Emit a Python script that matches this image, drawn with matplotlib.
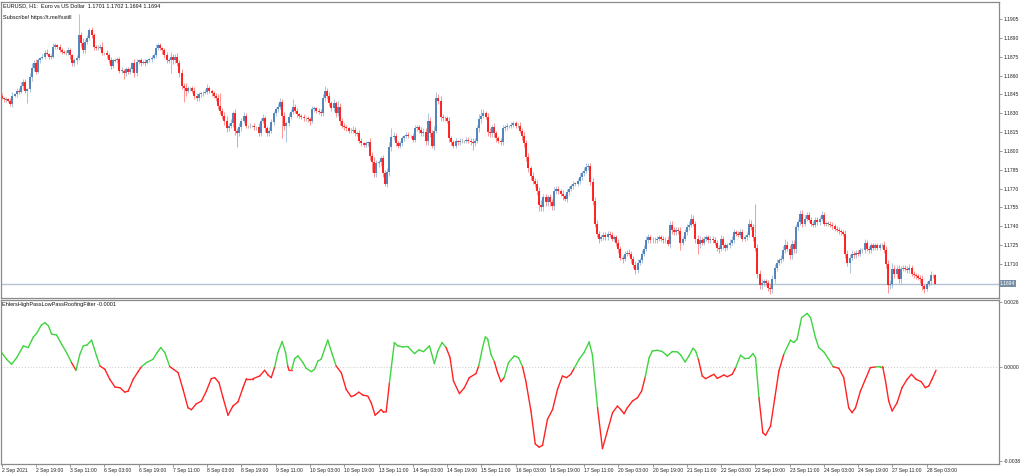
import numpy as np
import matplotlib.pyplot as plt
from matplotlib.collections import LineCollection

# prices in pips above 1.1700 (open of each bar = previous close)
BASE = 1.17
first_open = 144
closes = [
    142, 141, 141, 140, 137, 144, 145, 148, 147, 152,
    155, 148, 149, 159, 166, 170, 163, 172, 174, 175,
    178, 177, 175, 175, 183, 184, 183, 180, 179, 178,
    178, 180, 176, 170, 172, 174, 192, 186, 180, 187,
    190, 196, 192, 183, 182, 182, 183, 178, 178, 176,
    172, 168, 172, 172, 173, 164, 164, 162, 165, 163,
    165, 170, 162, 171, 172, 170, 171, 170, 172, 173,
    174, 176, 182, 184, 182, 180, 176, 172, 172, 175,
    172, 175, 170, 162, 152, 150, 148, 150, 150, 148,
    144, 142, 145, 146, 146, 147, 150, 148, 146, 144,
    142, 136, 132, 128, 124, 118, 120, 122, 130, 116,
    114, 119, 124, 128, 120, 120, 120, 120, 119, 119,
    114, 124, 126, 118, 114, 116, 123, 130, 133, 135,
    139, 128, 120, 122, 127, 131, 135, 132, 129, 128,
    127, 126, 126, 125, 124, 133, 134, 132, 131, 130,
    142, 148, 144, 138, 134, 138, 130, 135, 124, 120,
    119, 118, 116, 116, 117, 114, 114, 108, 106, 105,
    106, 107, 96, 91, 82, 90, 91, 94, 82, 74,
    83, 103, 111, 112, 106, 104, 106, 110, 112, 113,
    112, 112, 109, 118, 119, 117, 114, 115, 108, 124,
    114, 104, 116, 142, 140, 127, 126, 126, 124, 110,
    107, 104, 108, 107, 108, 108, 108, 109, 108, 107,
    106, 108, 118, 125, 128, 130, 127, 115, 114, 119,
    114, 110, 108, 107, 118, 119, 120, 120, 121, 122,
    120, 120, 116, 112, 106, 95, 86, 80, 76, 74,
    68, 57, 55, 63, 59, 63, 59, 56, 68, 70,
    68, 66, 64, 62, 67, 70, 72, 74, 74, 76,
    79, 82, 84, 87, 88, 75, 60, 42, 34, 30,
    31, 33, 31, 34, 33, 30, 31, 27, 22, 15,
    14, 18, 19, 18, 14, 9, 5, 11, 13, 18,
    22, 29, 31, 29, 29, 29, 30, 31, 30, 29,
    29, 26, 41, 37, 35, 37, 36, 27, 30, 35,
    39, 41, 46, 42, 30, 26, 29, 27, 30, 31,
    29, 30, 29, 27, 23, 22, 30, 25, 23, 25,
    27, 29, 35, 34, 33, 35, 30, 31, 33, 42,
    39, 31, 23, 2, -7, -5, -4, -5, -9, -10,
    -2, 7, 11, 13, 14, 21, 25, 22, 17, 26,
    22, 39, 43, 50, 42, 46, 49, 45, 42, 41,
    45, 43, 46, 49, 42, 42, 42, 41, 40, 38,
    37, 36, 35, 34, 18, 11, 15, 18, 17, 19,
    18, 21, 21, 27, 22, 21, 25, 23, 25, 23,
    25, 25, 21, 10, -7, -6, 6, 2, 6, -2,
    6, 7, 6, 5, 7, 2, 1, 0, -1, -2,
    -8, -10, -6, -4, 1, 1, -6,
]
# wick lengths (pips) above / below the body
wick_up = [
    2, 1, 2, 1, 2, 3, 1, 2, 2, 3, 2, 2, 1, 3, 4, 2, 3, 2, 1, 2,
    2, 3, 1, 2, 3, 2, 1, 2, 2, 1, 2, 3, 2, 1, 2, 2, 17, 3, 4, 2,
    2, 2, 3, 2, 1, 2, 2, 4, 1, 2, 2, 3, 1, 2, 2, 2, 3, 1, 2, 2,
    2, 1, 3, 2, 1, 2, 1, 2, 1, 1, 2, 2, 3, 2, 2, 1, 2, 3, 2, 4,
    2, 2, 3, 2, 3, 2, 4, 2, 1, 2, 3, 2, 2, 1, 2, 2, 3, 2, 1, 2,
    2, 3, 10, 2, 3, 4, 2, 3, 2, 3, 2, 3, 2, 3, 2, 1, 2, 1, 2, 1,
    3, 2, 3, 2, 2, 3, 2, 2, 2, 3, 3, 2, 3, 2, 3, 2, 6, 2, 2, 1,
    1, 2, 1, 2, 2, 3, 2, 1, 2, 2, 3, 4, 2, 3, 2, 3, 2, 5, 3, 2,
    2, 2, 1, 2, 3, 2, 2, 3, 2, 1, 2, 1, 3, 3, 4, 3, 2, 2, 3, 3,
    3, 4, 7, 3, 2, 2, 2, 2, 1, 2, 2, 1, 2, 3, 2, 2, 2, 3, 3, 6,
    3, 3, 4, 5, 3, 4, 2, 2, 2, 3, 2, 2, 2, 1, 2, 2, 1, 2, 2, 2,
    3, 2, 3, 4, 5, 3, 2, 3, 3, 2, 3, 2, 2, 2, 3, 2, 2, 1, 2, 2,
    2, 2, 3, 2, 3, 3, 3, 2, 3, 2, 3, 3, 4, 3, 3, 2, 3, 3, 3, 2,
    2, 2, 3, 2, 3, 2, 2, 2, 1, 2, 3, 2, 3, 3, 2, 2, 3, 3, 3, 2,
    2, 2, 2, 2, 2, 2, 2, 2, 3, 2, 2, 2, 2, 3, 2, 2, 3, 3, 2, 3,
    3, 3, 3, 2, 2, 2, 2, 2, 2, 2, 2, 3, 3, 3, 2, 2, 2, 3, 2, 3,
    3, 3, 4, 3, 2, 3, 3, 2, 2, 2, 2, 2, 2, 2, 2, 2, 3, 2, 2, 2,
    3, 3, 3, 2, 2, 3, 3, 2, 2, 4, 3, 3, 27, 3, 3, 3, 2, 2, 2, 3,
    3, 3, 3, 2, 3, 3, 5, 3, 3, 3, 3, 3, 3, 3, 3, 3, 2, 2, 2, 2,
    2, 2, 2, 3, 2, 2, 2, 2, 2, 2, 2, 2, 2, 2, 3, 3, 3, 3, 2, 2,
    2, 2, 2, 3, 2, 2, 2, 2, 2, 2, 2, 2, 3, 3, 3, 3, 5, 3, 3, 3,
    2, 2, 2, 2, 3, 2, 2, 2, 2, 2, 3, 2, 2, 2, 3, 1, 1,
]
wick_dn = [
    1, 2, 2, 1, 1, 2, 1, 2, 2, 1, 3, 2, 10, 2, 3, 2, 2, 1, 2, 1,
    2, 1, 2, 2, 1, 2, 2, 1, 2, 1, 2, 2, 3, 2, 2, 3, 2, 3, 2, 2,
    2, 2, 2, 3, 2, 2, 1, 2, 2, 2, 2, 3, 2, 1, 2, 2, 2, 5, 2, 2,
    2, 2, 3, 2, 2, 2, 1, 2, 1, 1, 2, 1, 2, 2, 2, 3, 2, 2, 2, 10,
    3, 2, 2, 3, 3, 11, 4, 2, 2, 2, 3, 2, 2, 2, 2, 1, 2, 2, 2, 2,
    2, 3, 3, 3, 3, 3, 2, 2, 3, 3, 11, 2, 3, 2, 2, 2, 2, 1, 2, 2,
    2, 2, 2, 3, 2, 2, 2, 2, 2, 2, 2, 18, 3, 13, 2, 2, 2, 2, 2, 2,
    2, 2, 2, 2, 3, 2, 2, 2, 2, 2, 2, 2, 3, 2, 2, 2, 3, 2, 3, 2,
    2, 2, 2, 2, 2, 2, 2, 2, 2, 2, 2, 2, 3, 8, 3, 3, 3, 3, 3, 2,
    3, 3, 3, 2, 2, 2, 2, 2, 2, 2, 2, 2, 2, 2, 2, 3, 2, 2, 3, 3,
    3, 2, 3, 2, 3, 3, 2, 2, 2, 3, 2, 2, 2, 2, 2, 2, 2, 2, 2, 2,
    5, 2, 2, 3, 3, 2, 2, 3, 3, 3, 3, 3, 2, 2, 2, 2, 2, 2, 2, 2,
    2, 2, 2, 3, 3, 3, 3, 3, 2, 3, 3, 5, 3, 3, 3, 3, 3, 3, 3, 2,
    2, 2, 3, 2, 3, 2, 2, 2, 2, 2, 2, 2, 2, 2, 2, 2, 3, 3, 3, 3,
    2, 2, 2, 2, 2, 2, 2, 3, 3, 2, 3, 2, 2, 2, 3, 2, 3, 2, 2, 2,
    2, 2, 2, 2, 2, 2, 2, 2, 2, 2, 2, 2, 3, 3, 2, 2, 2, 6, 2, 2,
    2, 2, 2, 2, 3, 8, 3, 2, 2, 2, 2, 2, 2, 2, 3, 3, 2, 3, 3, 2,
    2, 2, 2, 2, 2, 2, 2, 2, 2, 2, 2, 3, 3, 3, 3, 3, 3, 3, 3, 4,
    3, 3, 3, 2, 2, 2, 2, 2, 3, 3, 3, 3, 2, 2, 3, 2, 2, 2, 2, 2,
    2, 2, 2, 2, 2, 2, 2, 2, 2, 2, 2, 2, 2, 2, 3, 3, 8, 2, 2, 2,
    2, 2, 2, 2, 2, 2, 2, 2, 2, 2, 2, 2, 2, 3, 6, 3, 3, 3, 3, 3,
    3, 2, 2, 2, 2, 2, 2, 2, 2, 3, 3, 3, 2, 2, 2, 2, 0,
]
price_ticks = [1.1905, 1.1890, 1.1875, 1.1860, 1.1845, 1.1830, 1.1815,
               1.1800, 1.1785, 1.1770, 1.1755, 1.1740, 1.1725, 1.1710]
last_price = 1.1694

# roofing filter, units of 1e-4, sampled at bar positions
ind_bar = [0.0, 2.3, 4.65, 7.0, 10.1, 12.4, 14.8, 16.3, 18.6, 20.2,
           21.8, 23.3, 25.6, 28.0, 30.3, 32.6, 34.7, 36.5, 38.1, 39.9,
           42.0, 44.3, 45.9, 48.2, 50.5, 52.9, 55.2, 57.5, 59.1, 61.4,
           63.7, 65.3, 67.6, 70.7, 72.6, 74.3, 76.2, 78.5, 82.4, 84.7,
           87.0, 88.6, 90.9, 93.3, 95.6, 97.9, 99.5, 101.5, 103.4, 105.7,
           108.0, 110.4, 112.7, 114.3, 117.4, 120.5, 122.8, 124.4, 125.9, 127.5,
           129.0, 131.0, 132.6, 133.6, 134.2, 135.4, 136.8, 138.4, 140.7, 142.2,
           144.6, 146.1, 147.7, 149.2, 150.8, 152.3, 154.4, 156.2, 158.6, 160.9,
           163.2, 164.8, 166.8, 168.7, 171.0, 172.6, 174.4, 175.7, 177.2, 178.3,
           179.6, 181.1, 183.4, 185.0, 187.3, 189.7, 192.8, 194.8, 197.0, 199.8,
           202.1, 203.7, 205.7, 207.6, 209.4, 211.0, 213.8, 216.1, 218.4, 221.5,
           222.8, 224.6, 225.9, 227.0, 228.5, 230.1, 231.6, 233.2, 234.7, 236.7,
           239.4, 241.4, 243.3, 244.8, 247.2, 249.2, 251.0, 252.6, 254.9, 257.3,
           259.6, 261.9, 263.8, 265.8, 267.4, 269.7, 272.0, 274.4, 275.9, 278.3,
           280.6, 282.9, 285.3, 287.6, 289.1, 290.7, 292.2, 294.6, 296.9, 298.9,
           300.5, 302.4, 303.9, 306.2, 308.6, 310.9, 313.2, 315.6, 317.1, 319.2,
           321.0, 322.9, 324.1, 325.4, 327.2, 328.8, 331.1, 332.7, 334.2, 335.8,
           337.3, 338.9, 341.2, 342.8, 345.1, 347.1, 349.0, 350.9, 352.1, 353.7,
           355.5, 356.8, 359.1, 361.1, 363.0, 365.3, 368.4, 370.0, 371.5, 373.6,
           376.2, 377.8, 380.1, 381.6, 384.0, 386.3, 388.3, 391.0, 393.3, 395.6,
           397.2, 398.8, 401.1, 403.4, 405.7, 408.1, 410.4, 411.5, 412.8, 414.3,
           415.9, 418.2, 420.5, 422.9, 424.9, 427.1, 429.5, 431.4, 433.0, 434.5,
           436.4]
ind_val = [5.67, 2.97, 0.94, 3.64, 8.37, 7.69, 12.0, 13.4, 16.9, 17.7,
           16.5, 13.1, 12.8, 9.04, 5.67, 1.62, -1.48, 4.99, 8.37, 8.77,
           10.7, 4.32, 0.27, -1.08, -5.13, -8.23, -8.50, -10.3, -9.85, -5.13,
           -2.02, 0.0, 1.62, 2.97, 5.67, 7.69, 5.67, 0.0, -2.43, -9.18,
           -16.6, -17.4, -15.0, -13.9, -9.85, -4.86, -4.45, -6.48, -12.6, -19.6,
           -15.9, -14.2, -8.50, -4.86, -4.86, -3.78, -1.48, -3.37, -4.45, -0.13,
           5.67, 10.1, 5.67, 0.27, -1.48, -1.48, 3.24, 4.32, 1.62, -0.67,
           -2.02, -1.08, 2.29, 2.97, 7.02, 10.7, 4.99, 0.27, -2.43, -9.18,
           -12.1, -11.6, -10.3, -11.5, -11.9, -14.6, -19.6, -18.6, -17.3, -18.4,
           -18.2, -6.48, 9.72, 8.37, 7.96, 8.10, 5.26, 6.75, 6.07, 8.37,
           1.21, 6.34, 9.72, 7.69, 3.64, -5.80, -10.9, -8.50, -4.45, -2.83,
           0.27, 7.69, 12.0, 11.1, 4.99, 2.02, -2.43, -6.07, -4.45, 1.62,
           4.32, 3.64, -0.13, -5.80, -17.9, -31.2, -32.5, -31.8, -21.3, -17.3,
           -9.18, -3.78, -4.45, -3.10, -0.67, 2.97, 5.67, 9.99, 4.72, -16.6,
           -33.1, -26.0, -18.6, -15.9, -17.3, -19.0, -16.6, -13.9, -12.6, -9.85,
           -4.45, 3.64, 6.34, 6.61, 6.07, 4.32, 6.07, 5.94, 4.72, 1.89,
           4.32, 7.42, 6.34, 2.97, -3.78, -4.86, -3.78, -3.10, -4.72, -4.05,
           -3.37, -4.05, -3.10, -0.40, 4.59, 3.24, 3.37, 5.26, 3.64, -12.6,
           -26.7, -27.7, -24.0, -12.6, -1.75, 4.99, 10.7, 9.72, 11.1, 19.8,
           21.5, 19.8, 11.7, 7.69, 5.94, 2.97, 0.0, -0.67, -4.45, -16.6,
           -18.6, -16.6, -9.85, -5.13, -0.40, -0.13, 0.0, 0.0, -5.80, -13.9,
           -17.9, -14.6, -8.50, -5.13, -3.10, -5.13, -6.07, -8.50, -7.83, -5.13,
           -1.48]
# colour of the segment starting at each point: g = green, r = red
ind_col = ("gggggggggg" "gggggrgggg" "ggrrrrrrrr" "rggggggrrr" "rrrrrrrrrr"
           "rrrrrrrrrg" "gggrrggggg" "gggggggrrr" "rrrrrrrrrr" "rggggggggg"
           "gggrrrrrrr" "gggggrrrgg" "ggrrrrrrrr" "rrrrgggggr" "rrrrrrrrrr"
           "gggggggggg" "gggrrrrrrr" "rrrggggggr" "rrrrrggggg" "ggggggrrrr"
           "rrrrrggrrr" "rrrrrrrrrr" "r")
ind_label = 'EhlersHighPassLowPassRoofingFilter -0.0001'

time_labels = ['2 Sep 2021', '2 Sep 19:00', '3 Sep 11:00', '6 Sep 03:00', '6 Sep 19:00',
               '7 Sep 11:00', '8 Sep 03:00', '8 Sep 19:00', '9 Sep 11:00', '10 Sep 03:00',
               '10 Sep 19:00', '13 Sep 11:00', '14 Sep 03:00', '14 Sep 19:00', '15 Sep 11:00',
               '16 Sep 03:00', '16 Sep 19:00', '17 Sep 11:00', '20 Sep 03:00', '20 Sep 19:00',
               '21 Sep 11:00', '22 Sep 03:00', '22 Sep 19:00', '23 Sep 11:00', '24 Sep 03:00',
               '24 Sep 19:00', '27 Sep 11:00', '28 Sep 03:00']
BARS_PER_LABEL = 16

BLUE = '#4a80b8'
RED = '#ff1a1a'
GRAY = '#707070'
FRAME = '#8a8a8a'
FONT = 'Liberation Sans'
FS = 3.6      # axis labels
FS_TXT = 4.0  # corner captions

plt.rcParams['font.family'] = [FONT, 'DejaVu Sans']

fig = plt.figure(figsize=(10.24, 4.75), dpi=100)
W, H = 1024.0, 475.0
ax = fig.add_axes([1 / W, 1 - 297.5 / H, 997.5 / W, 295.5 / H])
axi = fig.add_axes([1 / W, 1 - 463.5 / H, 997.5 / W, 164.0 / H])

# ---- candles ----
c = BASE + np.array(closes) / 1e4
o = np.concatenate([[BASE + first_open / 1e4], c[:-1]])
top = np.maximum(o, c)
bot = np.minimum(o, c)
hi = top + np.array(wick_up) / 1e4
lo = bot - np.array(wick_dn) / 1e4
x = np.arange(len(c))
cols = np.where(c > o, BLUE, np.where(c < o, RED, GRAY))
doji = np.isclose(c, o)
top = np.where(doji, top + 0.00002, top)
bot = np.where(doji, bot - 0.00002, bot)

ax.vlines(x, lo, hi, colors=cols, lw=0.75, alpha=0.45)
ax.vlines(x, bot, top, colors=cols, lw=1.35)
ax.axhline(last_price, color='#b4c4d6', lw=1.0, zorder=0)

px_per_bar = 2.141
x0 = -0.7 / px_per_bar
x1 = (998.5 - 1.7) / px_per_bar
ax.set_xlim(x0, x1)
ax.set_ylim(BASE - 16.8 / 1e4, BASE + 218.6 / 1e4)

ax.yaxis.tick_right()
ax.set_yticks(price_ticks)
ax.set_yticklabels([f'{t:.4f}' for t in price_ticks])
ax.tick_params(axis='y', direction='out', length=2.5, width=0.6, color=FRAME,
               labelsize=FS, pad=1.5, labelcolor='#222222')
ax.set_xticks([])
for s in ax.spines.values():
    s.set_color(FRAME)
    s.set_linewidth(0.9)

ax.text(1.0015, last_price, f'{last_price:.4f}', transform=ax.get_yaxis_transform(),
        ha='left', va='center', fontsize=FS, color='white',
        bbox=dict(boxstyle='square,pad=0.2', fc='#7a8ea6', ec='none'))

fig.text(3 / W, 1 - 6 / H, 'EURUSD, H1:  Euro vs US Dollar  1.1701 1.1702 1.1694 1.1694',
         ha='left', va='center', fontsize=FS_TXT, color='#111111')
fig.text(3 / W, 1 - 17 / H, 'Subscribe! https://t.me/fxstill',
         ha='left', va='center', fontsize=FS_TXT, color='#111111')

# ---- indicator ----
pts = np.column_stack([ind_bar, np.array(ind_val) / 1e4])
segs = [pts[i:i + 2] for i in range(len(pts) - 1)]
seg_cols = ['#3fd43f' if ind_col[i] == 'g' else '#ff2222' for i in range(len(segs))]
axi.add_collection(LineCollection(segs, colors=seg_cols, linewidths=1.0,
                                  capstyle='round', joinstyle='round'))
axi.axhline(0.0, color='#c8c8c8', lw=0.7, ls=(0, (1, 2)), zorder=0)
axi.set_xlim(x0, x1)
axi.set_ylim(-0.00391, 0.00271)

axi.yaxis.tick_right()
ind_ticks = [0.0026, 0.0, -0.0038]
axi.set_yticks(ind_ticks)
axi.set_yticklabels([f'{t:.4f}' for t in ind_ticks])
axi.tick_params(axis='y', direction='out', length=2.5, width=0.6, color=FRAME,
                labelsize=FS, pad=1.5, labelcolor='#222222')

xt = np.arange(len(time_labels)) * BARS_PER_LABEL
axi.set_xticks(xt)
axi.set_xticklabels(time_labels)
axi.tick_params(axis='x', direction='out', length=2.5, width=0.6, color=FRAME,
                labelsize=FS, pad=0.8, labelcolor='#222222')
for lbl in axi.get_xticklabels():
    lbl.set_ha('left')
for s in axi.spines.values():
    s.set_color(FRAME)
    s.set_linewidth(0.9)

axi.text(2 / W, 1 - 304.5 / H, ind_label, transform=fig.transFigure,
         ha='left', va='center', fontsize=FS_TXT, color='#111111')

fig.savefig('out.png', dpi=100)
